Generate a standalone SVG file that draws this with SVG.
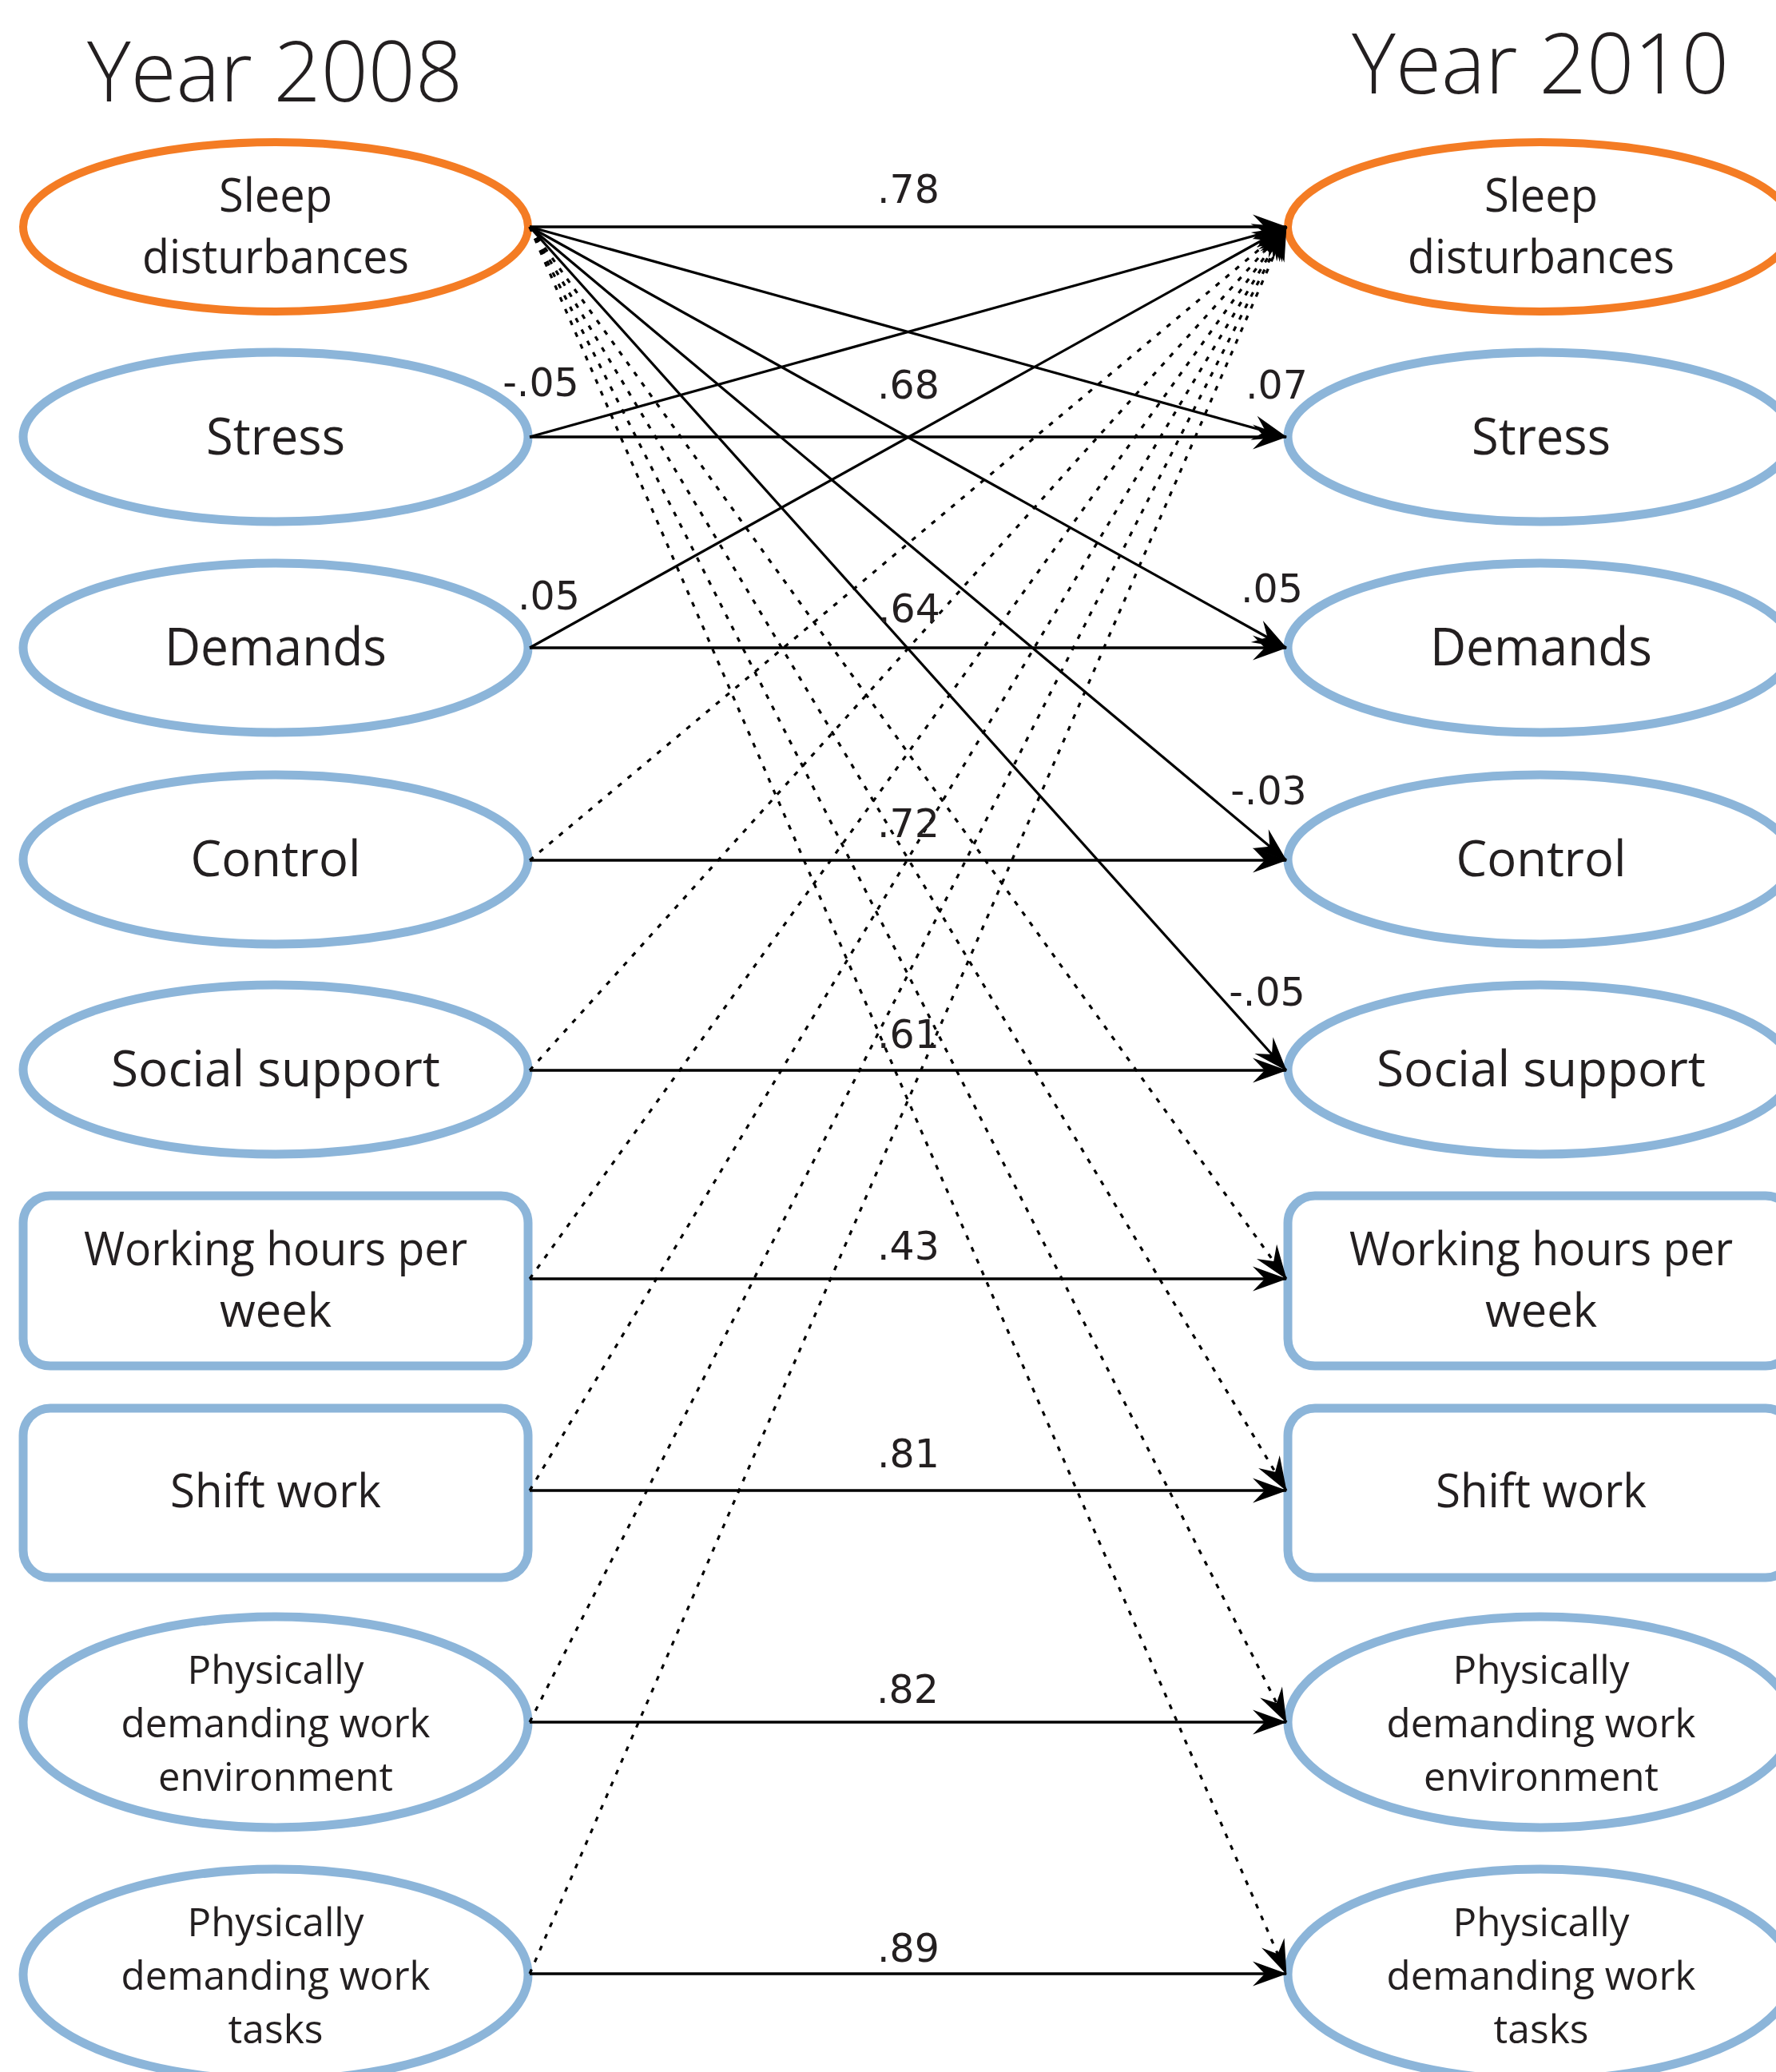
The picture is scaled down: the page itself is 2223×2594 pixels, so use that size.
<svg xmlns="http://www.w3.org/2000/svg" width="2223" height="2594" viewBox="0 0 2223 2594">
<style>
.bg{fill:#ffffff}
.ell{fill:#ffffff;stroke:#8cb5d9;stroke-width:11}
.ell-o{fill:#ffffff;stroke:#f47c24;stroke-width:10}
.box{fill:#ffffff;stroke:#8cb5d9;stroke-width:11}
.lbl{font-family:"Open Sans","Noto Sans","DejaVu Sans",sans-serif;fill:#231f20;text-anchor:middle}
.ttl{font-family:"Open Sans","Noto Sans","DejaVu Sans",sans-serif;fill:#231f20;text-anchor:middle;font-size:105px;font-weight:300}
.num{font-family:"DejaVu Sans","Open Sans",sans-serif;fill:#231f20;text-anchor:middle;font-size:49px}
.h{fill:none;stroke:#000;stroke-width:3.5;marker-end:url(#ah)}
.d{fill:none;stroke:#000;stroke-width:3.2;marker-end:url(#ah)}
.t{fill:none;stroke:#000;stroke-width:3.2;stroke-dasharray:6 10;marker-end:url(#ah)}
</style>
<defs>
<marker id="ah" markerUnits="userSpaceOnUse" markerWidth="50" markerHeight="40" viewBox="-45 -20 48 40" refX="0" refY="0" orient="auto" overflow="visible">
<path d="M1,0 L-42,-15.5 L-27,0 L-42,15.5 Z" fill="#000"/>
</marker>
</defs>
<rect class="bg" x="0" y="0" width="2223" height="2594"/>

<g id="titles">
<text class="ttl" x="344" y="127" textLength="470" lengthAdjust="spacingAndGlyphs">Year 2008</text>
<text class="ttl" x="1928" y="117" textLength="472" lengthAdjust="spacingAndGlyphs">Year 2010</text>
</g>

<g id="nodes-2008">
<g id="l-sleep">
<ellipse class="ell-o" cx="345" cy="284" rx="316" ry="106"/>
<text class="lbl" x="345" y="265" font-size="58" textLength="142" lengthAdjust="spacingAndGlyphs">Sleep</text>
<text class="lbl" x="345" y="342" font-size="58" textLength="334" lengthAdjust="spacingAndGlyphs">disturbances</text>
</g>
<g id="l-stress">
<ellipse class="ell" cx="345" cy="547" rx="316" ry="106"/>
<text class="lbl" x="345" y="569" font-size="64" textLength="174" lengthAdjust="spacingAndGlyphs">Stress</text>
</g>
<g id="l-demands">
<ellipse class="ell" cx="345" cy="811" rx="316" ry="106"/>
<text class="lbl" x="345" y="833" font-size="65" textLength="278" lengthAdjust="spacingAndGlyphs">Demands</text>
</g>
<g id="l-control">
<ellipse class="ell" cx="345" cy="1076" rx="316" ry="106"/>
<text class="lbl" x="345" y="1097" font-size="63" textLength="213" lengthAdjust="spacingAndGlyphs">Control</text>
</g>
<g id="l-social">
<ellipse class="ell" cx="345" cy="1339" rx="316" ry="106"/>
<text class="lbl" x="345" y="1360" font-size="63" textLength="412" lengthAdjust="spacingAndGlyphs">Social support</text>
</g>
<g id="l-hours">
<rect class="box" x="29" y="1497" width="632" height="213" rx="34" ry="34"/>
<text class="lbl" x="345" y="1584" font-size="58" textLength="480" lengthAdjust="spacingAndGlyphs">Working hours per</text>
<text class="lbl" x="345" y="1661" font-size="58" textLength="140" lengthAdjust="spacingAndGlyphs">week</text>
</g>
<g id="l-shift">
<rect class="box" x="29" y="1763" width="632" height="212" rx="34" ry="34"/>
<text class="lbl" x="345" y="1887" font-size="58" textLength="264" lengthAdjust="spacingAndGlyphs">Shift work</text>
</g>
<g id="l-physenv">
<ellipse class="ell" cx="345" cy="2156" rx="316" ry="132"/>
<text class="lbl" x="345" y="2108" font-size="50" textLength="221" lengthAdjust="spacingAndGlyphs">Physically</text>
<text class="lbl" x="345" y="2175" font-size="50" textLength="387" lengthAdjust="spacingAndGlyphs">demanding work</text>
<text class="lbl" x="345" y="2242" font-size="50" textLength="294" lengthAdjust="spacingAndGlyphs">environment</text>
</g>
<g id="l-phystasks">
<ellipse class="ell" cx="345" cy="2472" rx="316" ry="132"/>
<text class="lbl" x="345" y="2424" font-size="50" textLength="221" lengthAdjust="spacingAndGlyphs">Physically</text>
<text class="lbl" x="345" y="2491" font-size="50" textLength="387" lengthAdjust="spacingAndGlyphs">demanding work</text>
<text class="lbl" x="345" y="2558" font-size="50" textLength="119" lengthAdjust="spacingAndGlyphs">tasks</text>
</g>
</g>

<g id="nodes-2010">
<g id="r-sleep">
<ellipse class="ell-o" cx="1928" cy="284" rx="316" ry="106"/>
<text class="lbl" x="1929" y="265" font-size="58" textLength="142" lengthAdjust="spacingAndGlyphs">Sleep</text>
<text class="lbl" x="1929" y="342" font-size="58" textLength="334" lengthAdjust="spacingAndGlyphs">disturbances</text>
</g>
<g id="r-stress">
<ellipse class="ell" cx="1928" cy="547" rx="316" ry="106"/>
<text class="lbl" x="1929" y="569" font-size="64" textLength="174" lengthAdjust="spacingAndGlyphs">Stress</text>
</g>
<g id="r-demands">
<ellipse class="ell" cx="1928" cy="811" rx="316" ry="106"/>
<text class="lbl" x="1929" y="833" font-size="65" textLength="278" lengthAdjust="spacingAndGlyphs">Demands</text>
</g>
<g id="r-control">
<ellipse class="ell" cx="1928" cy="1076" rx="316" ry="106"/>
<text class="lbl" x="1929" y="1097" font-size="63" textLength="213" lengthAdjust="spacingAndGlyphs">Control</text>
</g>
<g id="r-social">
<ellipse class="ell" cx="1928" cy="1339" rx="316" ry="106"/>
<text class="lbl" x="1929" y="1360" font-size="63" textLength="412" lengthAdjust="spacingAndGlyphs">Social support</text>
</g>
<g id="r-hours">
<rect class="box" x="1612" y="1497" width="632" height="213" rx="34" ry="34"/>
<text class="lbl" x="1929" y="1584" font-size="58" textLength="480" lengthAdjust="spacingAndGlyphs">Working hours per</text>
<text class="lbl" x="1929" y="1661" font-size="58" textLength="140" lengthAdjust="spacingAndGlyphs">week</text>
</g>
<g id="r-shift">
<rect class="box" x="1612" y="1763" width="632" height="212" rx="34" ry="34"/>
<text class="lbl" x="1929" y="1887" font-size="58" textLength="264" lengthAdjust="spacingAndGlyphs">Shift work</text>
</g>
<g id="r-physenv">
<ellipse class="ell" cx="1928" cy="2156" rx="316" ry="132"/>
<text class="lbl" x="1929" y="2108" font-size="50" textLength="221" lengthAdjust="spacingAndGlyphs">Physically</text>
<text class="lbl" x="1929" y="2175" font-size="50" textLength="387" lengthAdjust="spacingAndGlyphs">demanding work</text>
<text class="lbl" x="1929" y="2242" font-size="50" textLength="294" lengthAdjust="spacingAndGlyphs">environment</text>
</g>
<g id="r-phystasks">
<ellipse class="ell" cx="1928" cy="2472" rx="316" ry="132"/>
<text class="lbl" x="1929" y="2424" font-size="50" textLength="221" lengthAdjust="spacingAndGlyphs">Physically</text>
<text class="lbl" x="1929" y="2491" font-size="50" textLength="387" lengthAdjust="spacingAndGlyphs">demanding work</text>
<text class="lbl" x="1929" y="2558" font-size="50" textLength="119" lengthAdjust="spacingAndGlyphs">tasks</text>
</g>
</g>

<g id="connectors">
<path class="t" d="M663,284 L1610,1601"/>
<path class="t" d="M663,284 L1610,1866"/>
<path class="t" d="M663,284 L1610,2156"/>
<path class="t" d="M663,284 L1610,2471"/>
<path class="t" d="M663,1077 L1610,284"/>
<path class="t" d="M663,1340 L1610,284"/>
<path class="t" d="M663,1601 L1610,284"/>
<path class="t" d="M663,1866 L1610,284"/>
<path class="t" d="M663,2156 L1610,284"/>
<path class="t" d="M663,2471 L1610,284"/>
<path class="d" d="M663,284 L1610,547"/>
<path class="d" d="M663,284 L1610,811"/>
<path class="d" d="M663,284 L1610,1077"/>
<path class="d" d="M663,284 L1610,1340"/>
<path class="d" d="M663,547 L1610,284"/>
<path class="d" d="M663,811 L1610,284"/>
<path class="h" d="M663,284 L1610,284"/>
<path class="h" d="M663,547 L1610,547"/>
<path class="h" d="M663,811 L1610,811"/>
<path class="h" d="M663,1077 L1610,1077"/>
<path class="h" d="M663,1340 L1610,1340"/>
<path class="h" d="M663,1601 L1610,1601"/>
<path class="h" d="M663,1866 L1610,1866"/>
<path class="h" d="M663,2156 L1610,2156"/>
<path class="h" d="M663,2471 L1610,2471"/>
</g>

<g id="connector-labels">
<text class="num" x="1137" y="254">.78</text>
<text class="num" x="677" y="496">-.05</text>
<text class="num" x="1137" y="499">.68</text>
<text class="num" x="1598" y="499">.07</text>
<text class="num" x="687" y="763">.05</text>
<text class="num" x="1138" y="779">.64</text>
<text class="num" x="1592" y="754">.05</text>
<text class="num" x="1588" y="1007">-.03</text>
<text class="num" x="1137" y="1048">.72</text>
<text class="num" x="1586" y="1259">-.05</text>
<text class="num" x="1137" y="1312">.61</text>
<text class="num" x="1137" y="1577">.43</text>
<text class="num" x="1137" y="1837">.81</text>
<text class="num" x="1136" y="2132">.82</text>
<text class="num" x="1137" y="2456">.89</text>
</g>
</svg>
